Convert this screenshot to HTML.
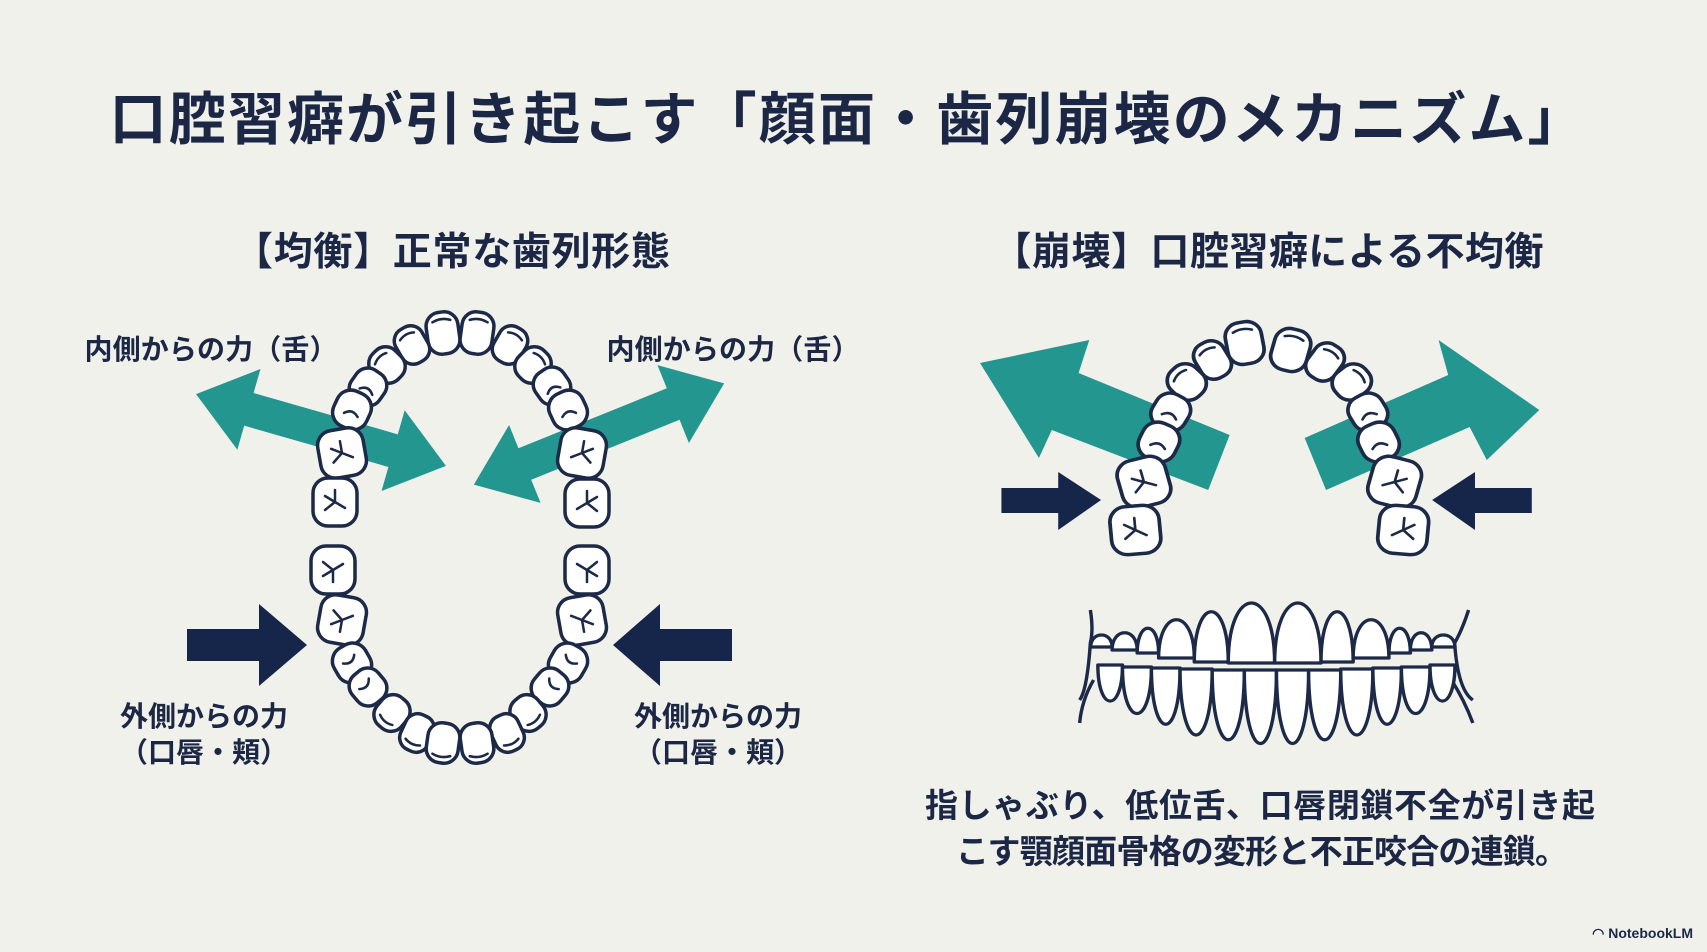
<!DOCTYPE html>
<html><head><meta charset="utf-8"><style>
html,body{margin:0;padding:0;background:#f1f1ec;}
svg{display:block}
text{font-family:"Liberation Sans","Noto Sans CJK JP",sans-serif;font-weight:bold;fill:#1b2744}
.t rect{fill:#fff;stroke:#1c2a48;stroke-width:3.5}
.t path{fill:none;stroke:#1c2a48;stroke-width:2.5;stroke-linecap:round}
.f path{fill:#fff;stroke:#1c2a48;stroke-width:3.2;stroke-linejoin:round}
</style></head><body>
<svg width="1707" height="952" viewBox="0 0 1707 952" xmlns="http://www.w3.org/2000/svg">
<rect width="1707" height="952" fill="#f1f1ec"/>
<text x="847" y="139" font-size="57" text-anchor="middle" textLength="1475">口腔習癖が引き起こす「顔面・歯列崩壊のメカニズム」</text>
<text x="452" y="265" font-size="39" text-anchor="middle" textLength="436">【均衡】正常な歯列形態</text>
<text x="1268" y="265" font-size="39" text-anchor="middle" textLength="551">【崩壊】口腔習癖による不均衡</text>
<text x="211" y="359" font-size="28" text-anchor="middle" textLength="253">内側からの力（舌）</text>
<text x="733" y="359" font-size="28" text-anchor="middle" textLength="253">内側からの力（舌）</text>
<text x="204" y="726" font-size="28" text-anchor="middle">外側からの力</text>
<text x="204" y="762" font-size="28" text-anchor="middle">（口唇・頬）</text>
<text x="718" y="726" font-size="28" text-anchor="middle">外側からの力</text>
<text x="718" y="762" font-size="28" text-anchor="middle">（口唇・頬）</text>
<text x="1260" y="817" font-size="33" text-anchor="middle" textLength="670">指しゃぶり、低位舌、口唇閉鎖不全が引き起</text>
<text x="1262" y="863" font-size="33" text-anchor="middle" textLength="612">こす顎顔面骨格の変形と不正咬合の連鎖。</text>
<text x="1693" y="938" font-size="14" text-anchor="end">◠ NotebookLM</text>

<g fill="#23968f">
<polygon transform="translate(321 430) rotate(16)" points="-130,0 -75,-42 -75,-17 75,-17 75,-42 130,0 75,42 75,17 -75,17 -75,42"/>
<polygon transform="translate(599 434) rotate(-22)" points="-135,0 -80,-42 -80,-17 80,-17 80,-42 135,0 80,42 80,17 -80,17 -80,42"/>
</g>
<g fill="#16264b">
<polygon points="187,629 259,629 259,604 307,645 259,686 259,661 187,661"/>
<polygon points="732,629 660,629 660,604 613,645 660,686 660,661 732,661"/>
</g>

<g class="t">
<g transform="translate(443 333) rotate(-8)"><rect x="-16" y="-21" width="32" height="42" rx="14"/><path d="M-9,-12 Q0,-16 9,-12"/></g>
<g transform="translate(477 333) rotate(8)"><rect x="-16" y="-21" width="32" height="42" rx="14"/><path d="M-9,-12 Q0,-16 9,-12"/></g>
<g transform="translate(412 345) rotate(-30)"><rect x="-15" y="-19" width="30" height="38" rx="13"/><path d="M-8,-10 Q0,-14 8,-10"/></g>
<g transform="translate(510 345) rotate(30)"><rect x="-15" y="-19" width="30" height="38" rx="13"/><path d="M-8,-10 Q0,-14 8,-10"/></g>
<g transform="translate(387 365) rotate(-45)"><rect x="-16" y="-18" width="32" height="36" rx="14"/><path d="M-8,-9 Q0,-13 8,-9"/></g>
<g transform="translate(533 365) rotate(45)"><rect x="-16" y="-18" width="32" height="36" rx="14"/><path d="M-8,-9 Q0,-13 8,-9"/></g>
<g transform="translate(368 387) rotate(-55)"><rect x="-18" y="-17" width="36" height="34" rx="14"/><path d="M-6,-6 Q2,0 -4,8"/></g>
<g transform="translate(552 386) rotate(55)"><rect x="-18" y="-17" width="36" height="34" rx="14"/><path d="M6,-6 Q-2,0 4,8"/></g>
<g transform="translate(352 410) rotate(-65)"><rect x="-19" y="-18" width="38" height="36" rx="15"/><path d="M-6,-6 Q2,0 -4,8"/></g>
<g transform="translate(568 410) rotate(65)"><rect x="-19" y="-18" width="38" height="36" rx="15"/><path d="M6,-6 Q-2,0 4,8"/></g>
<g transform="translate(342 453) rotate(-10)"><rect x="-23" y="-24" width="46" height="48" rx="15"/><path d="M0,-12 L0,0 L-10,8 M0,0 L10,6 M0,0 L-10,-6"/></g>
<g transform="translate(582 453) rotate(10)"><rect x="-23" y="-24" width="46" height="48" rx="15"/><path d="M0,-12 L0,0 L10,8 M0,0 L-10,6 M0,0 L10,-6"/></g>
<g transform="translate(335 502)"><rect x="-22" y="-24" width="44" height="48" rx="15"/><path d="M0,-12 L0,0 L-10,8 M0,0 L10,6 M0,0 L-10,-6"/></g>
<g transform="translate(587 503)"><rect x="-22" y="-24" width="44" height="48" rx="15"/><path d="M0,-12 L0,0 L10,8 M0,0 L-10,6 M0,0 L10,-6"/></g>
<g transform="translate(333 570)"><rect x="-22" y="-24" width="44" height="48" rx="15"/><path d="M0,12 L0,0 L-10,-8 M0,0 L10,-6 M0,0 L-10,6"/></g>
<g transform="translate(587 570)"><rect x="-22" y="-24" width="44" height="48" rx="15"/><path d="M0,12 L0,0 L10,-8 M0,0 L-10,-6 M0,0 L10,6"/></g>
<g transform="translate(342 620) rotate(10)"><rect x="-23" y="-24" width="46" height="48" rx="15"/><path d="M0,12 L0,0 L-10,-8 M0,0 L10,-6 M0,0 L-10,6"/></g>
<g transform="translate(582 620) rotate(-10)"><rect x="-23" y="-24" width="46" height="48" rx="15"/><path d="M0,12 L0,0 L10,-8 M0,0 L-10,-6 M0,0 L10,6"/></g>
<g transform="translate(352 663) rotate(60)"><rect x="-19" y="-18" width="38" height="36" rx="15"/><path d="M-6,-6 Q2,0 -4,8"/></g>
<g transform="translate(568 663) rotate(-60)"><rect x="-19" y="-18" width="38" height="36" rx="15"/><path d="M6,-6 Q-2,0 4,8"/></g>
<g transform="translate(368 687) rotate(50)"><rect x="-18" y="-17" width="36" height="34" rx="14"/><path d="M-6,-6 Q2,0 -4,8"/></g>
<g transform="translate(550 687) rotate(-50)"><rect x="-18" y="-17" width="36" height="34" rx="14"/><path d="M6,-6 Q-2,0 4,8"/></g>
<g transform="translate(392 713) rotate(40)"><rect x="-16" y="-18" width="32" height="36" rx="14"/><path d="M-8,9 Q0,13 8,9"/></g>
<g transform="translate(528 713) rotate(-40)"><rect x="-16" y="-18" width="32" height="36" rx="14"/><path d="M-8,9 Q0,13 8,9"/></g>
<g transform="translate(417 733) rotate(25)"><rect x="-15" y="-19" width="30" height="38" rx="13"/><path d="M-8,10 Q0,14 8,10"/></g>
<g transform="translate(507 733) rotate(-25)"><rect x="-15" y="-19" width="30" height="38" rx="13"/><path d="M-8,10 Q0,14 8,10"/></g>
<g transform="translate(443 743) rotate(8)"><rect x="-16" y="-20" width="32" height="40" rx="14"/><path d="M-9,12 Q0,16 9,12"/></g>
<g transform="translate(477 743) rotate(-8)"><rect x="-16" y="-20" width="32" height="40" rx="14"/><path d="M-9,12 Q0,16 9,12"/></g>
</g>

<g transform="translate(980 0) scale(1.0714 1) translate(-980 0)">
<g fill="#23968f">
<polygon points="980,363 1082,340 1072,373 1213,435 1193,490 1047,430 1035,458"/>
<polygon points="1502,410 1408,340 1417,375 1283,438 1303,490 1437,427 1453,460"/>
</g>
<g fill="#16264b">
<polygon points="1000,488 1053,488 1053,472 1093,500 1053,530 1053,513 1000,513"/>
<polygon points="1495,488 1442,488 1442,472 1402,500 1442,530 1442,513 1495,513"/>
</g>
<g class="t">
<g transform="translate(1227 343) rotate(-10)"><rect x="-17" y="-21" width="34" height="42" rx="14"/><path d="M-9,-12 Q0,-16 9,-12"/></g>
<g transform="translate(1270 350) rotate(15)"><rect x="-17" y="-21" width="34" height="42" rx="14"/><path d="M-9,-12 Q0,-16 9,-12"/></g>
<g transform="translate(1197 360) rotate(-30)"><rect x="-15" y="-19" width="30" height="38" rx="13"/><path d="M-8,-10 Q0,-14 8,-10"/></g>
<g transform="translate(1302 362) rotate(35)"><rect x="-15" y="-19" width="30" height="38" rx="13"/><path d="M-8,-10 Q0,-14 8,-10"/></g>
<g transform="translate(1173 382) rotate(-45)"><rect x="-16" y="-18" width="32" height="36" rx="14"/><path d="M-8,-9 Q0,-13 8,-9"/></g>
<g transform="translate(1327 382) rotate(50)"><rect x="-16" y="-18" width="32" height="36" rx="14"/><path d="M-8,-9 Q0,-13 8,-9"/></g>
<g transform="translate(1158 412) rotate(-60)"><rect x="-18" y="-17" width="36" height="34" rx="14"/><path d="M-6,-6 Q2,0 -4,8"/></g>
<g transform="translate(1342 412) rotate(60)"><rect x="-18" y="-17" width="36" height="34" rx="14"/><path d="M6,-6 Q-2,0 4,8"/></g>
<g transform="translate(1147 442) rotate(-65)"><rect x="-19" y="-18" width="38" height="36" rx="15"/><path d="M-6,-6 Q2,0 -4,8"/></g>
<g transform="translate(1352 442) rotate(65)"><rect x="-19" y="-18" width="38" height="36" rx="15"/><path d="M6,-6 Q-2,0 4,8"/></g>
<g transform="translate(1133 482) rotate(-15)"><rect x="-23" y="-24" width="46" height="48" rx="15"/><path d="M0,-12 L0,0 L-10,8 M0,0 L10,6 M0,0 L-10,-6"/></g>
<g transform="translate(1367 482) rotate(15)"><rect x="-23" y="-24" width="46" height="48" rx="15"/><path d="M0,-12 L0,0 L10,8 M0,0 L-10,6 M0,0 L10,-6"/></g>
<g transform="translate(1125 530) rotate(-5)"><rect x="-23" y="-24" width="46" height="48" rx="15"/><path d="M0,-12 L0,0 L-10,8 M0,0 L10,6 M0,0 L-10,-6"/></g>
<g transform="translate(1375 530) rotate(5)"><rect x="-23" y="-24" width="46" height="48" rx="15"/><path d="M0,-12 L0,0 L10,8 M0,0 L-10,6 M0,0 L10,-6"/></g>
</g>

<g class="f">
<path d="M1083,610 Q1086,630 1083,643 Q1080,690 1073,700" style="fill:none"/>
<path d="M1436,610 Q1430,630 1423,643 Q1426,690 1440,700" style="fill:none"/>
<path d="M1086,680 Q1075,700 1073,723" style="fill:none"/>
<path d="M1420,680 Q1432,700 1440,723" style="fill:none"/>
<path d="M1090,665 C1090,713 1113,713 1113,665 Z"/>
<path d="M1113,667 C1113,729 1140,729 1140,667 Z"/>
<path d="M1140,668 C1140,743 1166.7,743 1166.7,668 Z"/>
<path d="M1166.7,669 C1166.7,757 1196.7,757 1196.7,669 Z"/>
<path d="M1196.7,670 C1196.7,763 1226.7,763 1226.7,670 Z"/>
<path d="M1226.7,670 C1226.7,768 1256.7,768 1256.7,670 Z"/>
<path d="M1256.7,670 C1256.7,768 1286.7,768 1286.7,670 Z"/>
<path d="M1286.7,670 C1286.7,763 1316.7,763 1316.7,670 Z"/>
<path d="M1316.7,669 C1316.7,757 1346.7,757 1346.7,669 Z"/>
<path d="M1346.7,668 C1346.7,743 1373.3,743 1373.3,668 Z"/>
<path d="M1373.3,667 C1373.3,729 1400,729 1400,667 Z"/>
<path d="M1400,665 C1400,713 1423.3,713 1423.3,665 Z"/>
<path d="M1083.3,647 C1083.3,631 1103.3,631 1103.3,647 Z"/>
<path d="M1103.3,650 C1103.3,627 1126.7,627 1126.7,650 Z"/>
<path d="M1126.7,653 C1126.7,620 1146.7,620 1146.7,653 Z"/>
<path d="M1146.7,658 C1146.7,607 1180,607 1180,658 Z"/>
<path d="M1180,662 C1180,595 1211.7,595 1211.7,662 Z"/>
<path d="M1211.7,663 C1211.7,583 1255,583 1255,663 Z"/>
<path d="M1255,663 C1255,583 1298.3,583 1298.3,663 Z"/>
<path d="M1298.3,662 C1298.3,595 1328.3,595 1328.3,662 Z"/>
<path d="M1328.3,658 C1328.3,607 1361.7,607 1361.7,658 Z"/>
<path d="M1361.7,653 C1361.7,620 1381.7,620 1381.7,653 Z"/>
<path d="M1381.7,650 C1381.7,627 1401.7,627 1401.7,650 Z"/>
<path d="M1401.7,647 C1401.7,631 1423.3,631 1423.3,647 Z"/>
</g>
</g>
</svg>
</body></html>
